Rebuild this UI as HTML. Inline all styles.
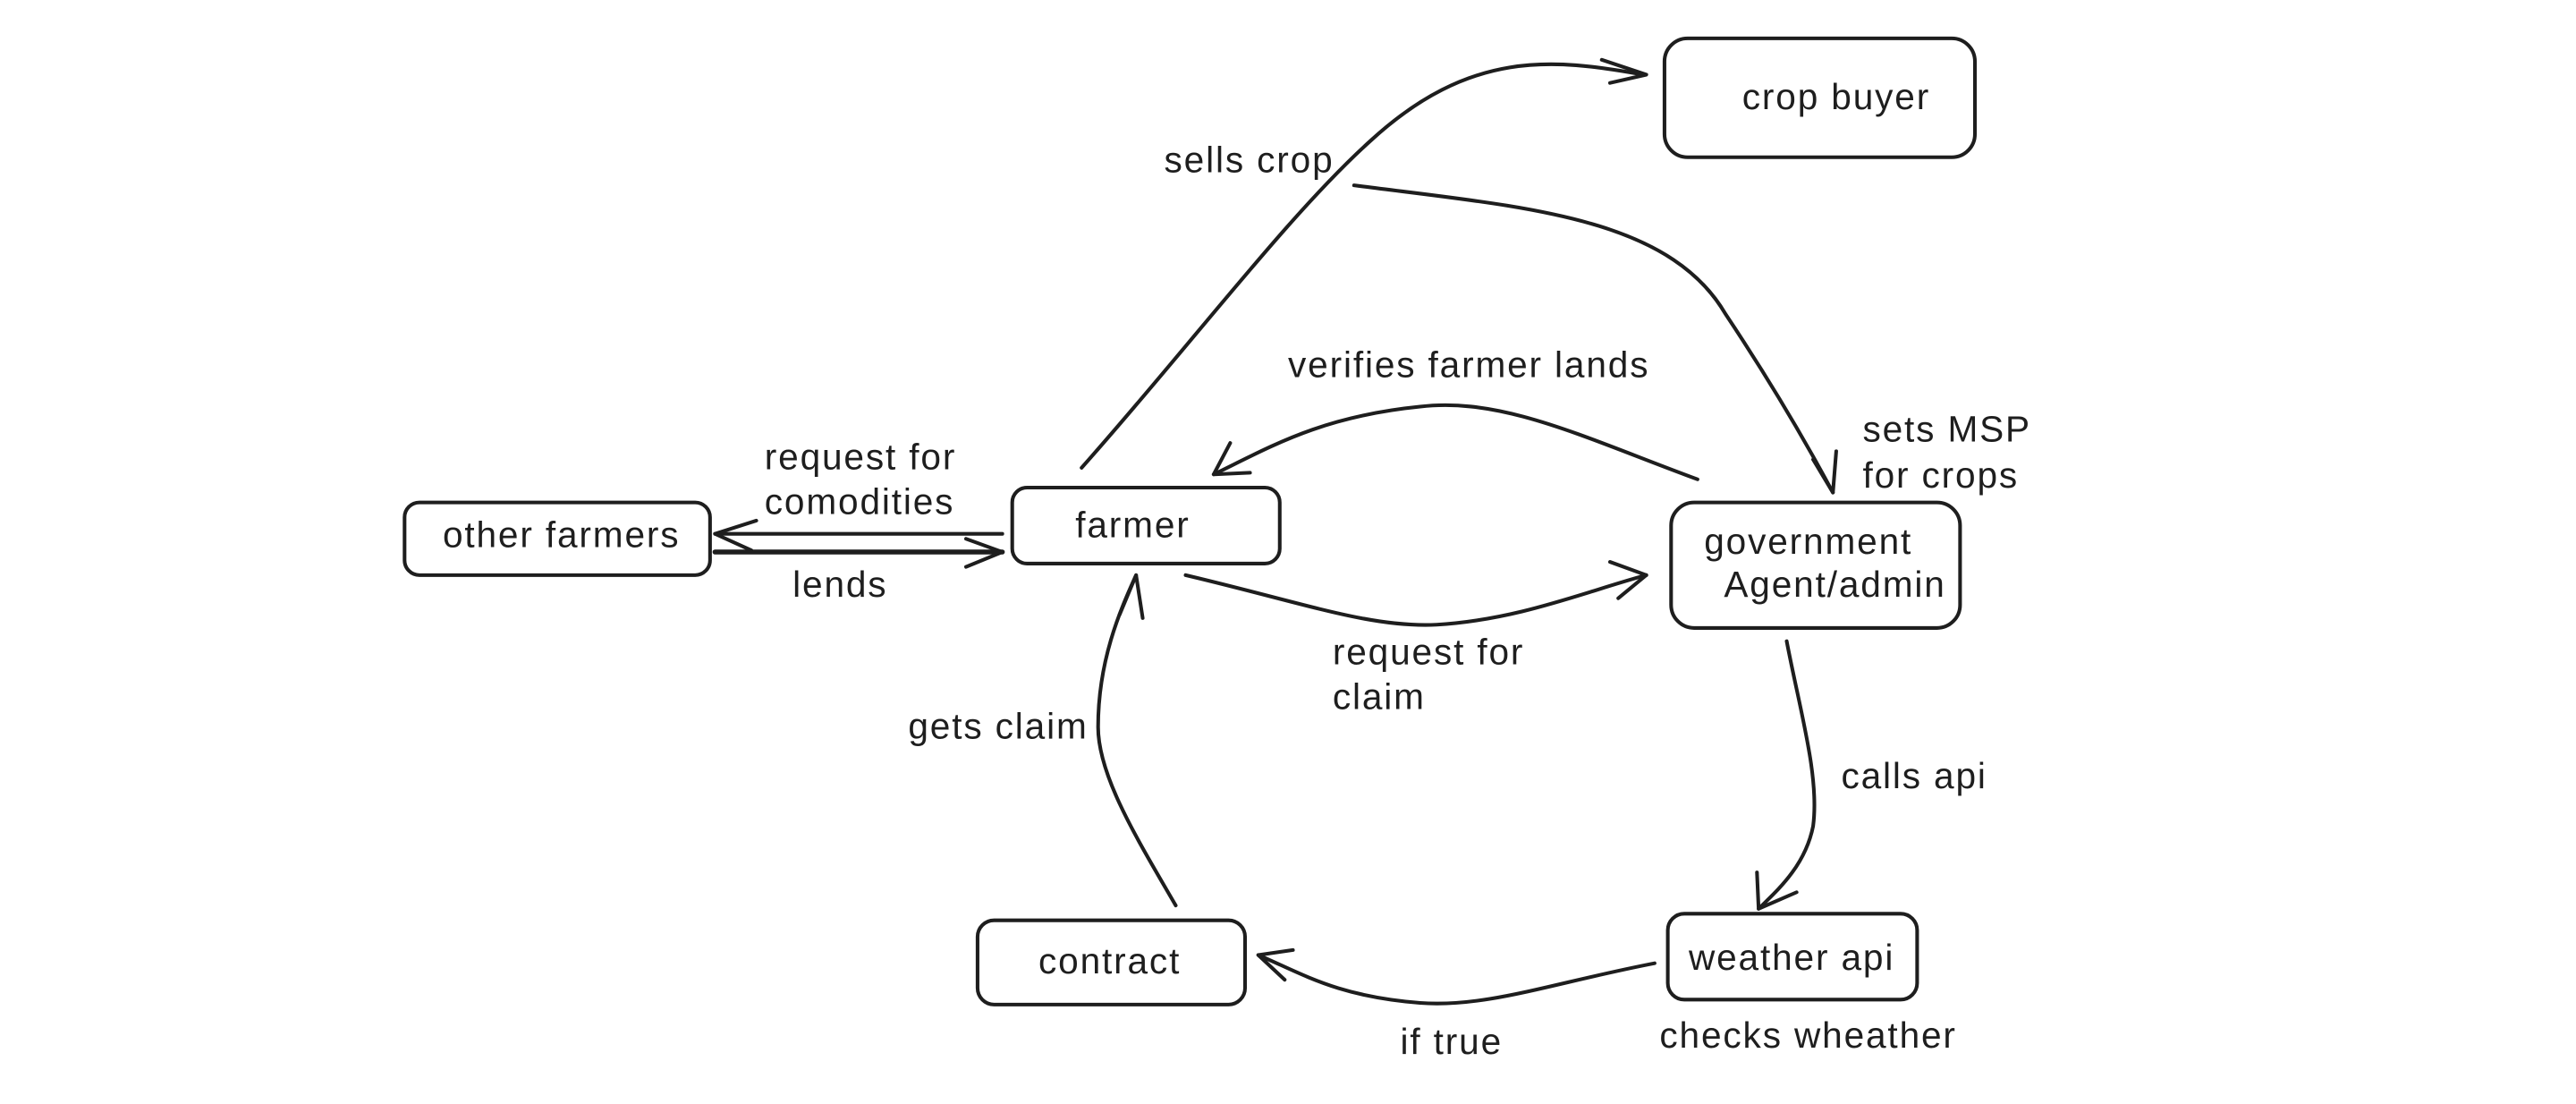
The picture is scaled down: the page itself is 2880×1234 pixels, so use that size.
<!DOCTYPE html>
<html><head><meta charset="utf-8"><style>
html,body{margin:0;padding:0;background:#fff;}
svg{display:block;}
text{font-family:"Liberation Sans",sans-serif;font-size:22px;letter-spacing:1px;fill:#1e1e1e;}
.b{fill:none;stroke:#1e1e1e;stroke-width:2.2;stroke-linecap:round;stroke-linejoin:round;}
</style></head><body>
<svg width="2880" height="1234" viewBox="0 0 1560 668" xmlns="http://www.w3.org/2000/svg">
<rect width="1560" height="668" fill="#fff"/>
<rect class="b" x="245" y="304" width="185" height="44" rx="9"/>
<rect class="b" x="613" y="295" width="162" height="46" rx="9"/>
<rect class="b" x="1008" y="23" width="188" height="72" rx="14"/>
<rect class="b" x="1012" y="304" width="175" height="76" rx="14"/>
<rect class="b" x="1010" y="553" width="151" height="52" rx="10"/>
<rect class="b" x="592" y="557" width="162" height="51" rx="10"/>
<text x="340" y="331" text-anchor="middle">other farmers</text>
<text x="686" y="325" text-anchor="middle">farmer</text>
<text x="1112" y="66" text-anchor="middle">crop buyer</text>
<text x="1032" y="335">government</text>
<text x="1044" y="361">Agent/admin</text>
<text x="1085" y="587" text-anchor="middle">weather api</text>
<text x="672" y="589" text-anchor="middle">contract</text>
<path class="b" d="M655 283 C720 210 780 130 830 85 C890 30 940 35 995 45"/>
<path class="b" d="M970 36 L997 45 L975 50"/>
<path class="b" d="M820 112 C920 125 1010 130 1045 190 C1075 235 1095 270 1110 298"/>
<path class="b" d="M1098 278 L1110 298 L1112 273"/>
<path class="b" d="M1028 290 C960 265 910 240 860 246 C800 252 770 270 735 287"/>
<path class="b" d="M745 268 L735 287 L757 286"/>
<path class="b" d="M718 348 C790 365 830 380 870 378 C920 375 960 358 997 348"/>
<path class="b" d="M975 340 L997 348 L980 362"/>
<path class="b" d="M1082 388 C1090 430 1102 470 1098 500 C1093 525 1075 540 1065 550"/>
<path class="b" d="M1064 528 L1065 550 L1088 540"/>
<path class="b" d="M1002 583 C940 595 900 610 860 607 C810 603 790 590 762 578"/>
<path class="b" d="M783 575 L762 578 L778 593"/>
<path class="b" d="M712 548 C690 510 665 470 665 440 C665 400 678 370 688 348"/>
<path class="b" d="M678 372 L688 348 L692 374"/>
<path class="b" d="M607 323 L433 323"/>
<path class="b" d="M458 315 L433 323 L455 333"/>
<path class="b" d="M433 334 L607 334" style="stroke-width:3"/>
<path class="b" d="M585 326 L607 334 L585 343"/>
<text x="705" y="104">sells crop</text>
<text x="1128" y="267">sets MSP</text>
<text x="1128" y="295">for crops</text>
<text x="780" y="228">verifies farmer lands</text>
<text x="807" y="402">request for</text>
<text x="807" y="429">claim</text>
<text x="1115" y="477">calls api</text>
<text x="848" y="638">if true</text>
<text x="1005" y="634">checks wheather</text>
<text x="550" y="447">gets claim</text>
<text x="463" y="284">request for</text>
<text x="463" y="311">comodities</text>
<text x="480" y="361">lends</text>
</svg>
</body></html>
